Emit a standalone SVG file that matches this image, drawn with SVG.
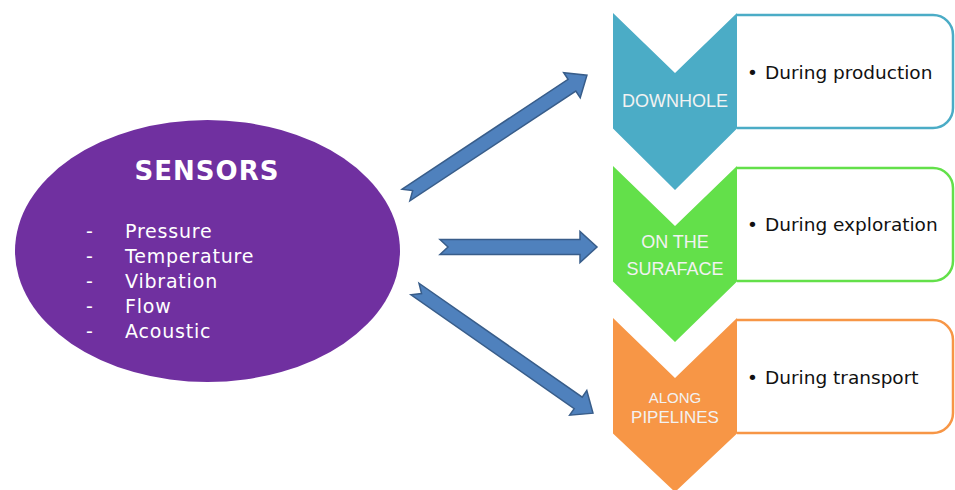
<svg xmlns="http://www.w3.org/2000/svg" width="955" height="490" viewBox="0 0 955 490">
<defs>
<style>
.arrow{fill:#4F81BD;stroke:#385D8A;stroke-width:1.5;stroke-linejoin:miter}
.box{fill:#fff;stroke-width:2.5}
.chev-t{font-family:"Liberation Sans",Arial,sans-serif;fill:#F2F2F2;text-anchor:middle}
.bul{font-family:"DejaVu Sans",Verdana,sans-serif;font-size:18.5px;fill:#111}
.lst{font-family:"DejaVu Sans",Verdana,sans-serif;font-size:19px;fill:#fff;letter-spacing:0.8px}
</style>
</defs>
<rect width="955" height="490" fill="#fff"/>

<g id="sensors">
<ellipse cx="207.5" cy="251" rx="192.5" ry="131" fill="#7030A0"/>
<text x="207" y="180" text-anchor="middle" font-family="DejaVu Sans,Verdana,sans-serif" font-weight="bold" font-size="26" letter-spacing="1" fill="#fff">SENSORS</text>
<g class="lst">
<text x="86" y="238">-</text><text x="125" y="238">Pressure</text>
<text x="86" y="263">-</text><text x="125" y="263">Temperature</text>
<text x="86" y="288">-</text><text x="125" y="288">Vibration</text>
<text x="86" y="313">-</text><text x="125" y="313">Flow</text>
<text x="86" y="338">-</text><text x="125" y="338">Acoustic</text>
</g>
</g>

<g id="connectors">
<path class="arrow" transform="translate(406,195) rotate(-33.5)" d="M0,-7 L199,-7 L199,-15 L217,0 L199,15 L199,7 L0,7 L8,0 Z"/>
<path class="arrow" transform="translate(440,247)" d="M0,-7.5 L140,-7.5 L140,-15.5 L157,0 L140,15.5 L140,7.5 L0,7.5 L8,0 Z"/>
<path class="arrow" transform="translate(415,289) rotate(34.9)" d="M0,-7 L199,-7 L199,-15 L217,0 L199,15 L199,7 L0,7 L8,0 Z"/>
</g>

<g id="downhole">
<path class="box" d="M737,15 H933 A20,20 0 0 1 953,35 V108 A20,20 0 0 1 933,128 H737" stroke="#4BACC6"/>
<polygon points="613,13 675,73 737,13 737,128.5 675,190 613,128.5" fill="#4BACC6"/>
<text class="chev-t" x="675" y="107" font-size="18">DOWNHOLE</text>
<text class="bul" x="747" y="79">•</text>
<text class="bul" x="765" y="79">During production</text>
</g>

<g id="surface">
<path class="box" d="M737,168 H933 A20,20 0 0 1 953,188 V261 A20,20 0 0 1 933,281 H737" stroke="#63E04A"/>
<polygon points="613,166 675,226 737,166 737,281.5 675,342 613,281.5" fill="#63E04A"/>
<text class="chev-t" x="675" y="248" font-size="18">ON THE</text>
<text class="chev-t" x="675" y="275" font-size="18">SURAFACE</text>
<text class="bul" x="747" y="231">•</text>
<text class="bul" x="765" y="231">During exploration</text>
</g>

<g id="pipelines">
<path class="box" d="M737,320 H933 A20,20 0 0 1 953,340 V413 A20,20 0 0 1 933,433 H737" stroke="#F79646"/>
<polygon points="613,318 675,378 737,318 737,433.5 675,492 613,433.5" fill="#F79646"/>
<text class="chev-t" x="675" y="403" font-size="15">ALONG</text>
<text class="chev-t" x="675" y="423" font-size="17">PIPELINES</text>
<text class="bul" x="747" y="384">•</text>
<text class="bul" x="765" y="384">During transport</text>
</g>
</svg>
